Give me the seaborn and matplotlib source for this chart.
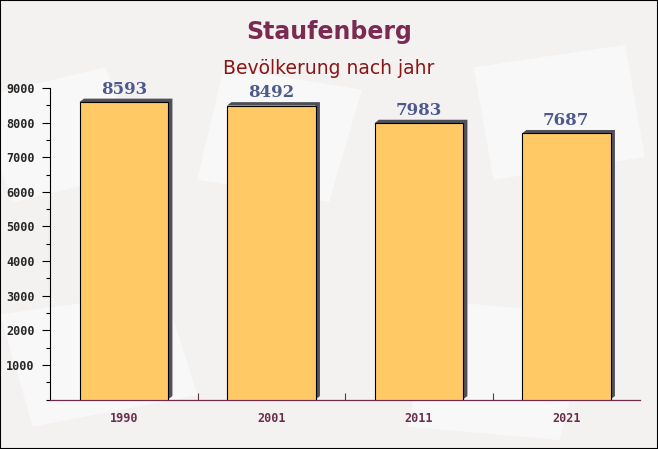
import matplotlib
matplotlib.use('Agg')
import matplotlib.pyplot as plt
import seaborn as sns
import pandas as pd
from matplotlib.ticker import MultipleLocator, FixedLocator
from matplotlib.patches import Rectangle, Polygon

# Daten
jahre = ['1990', '2001', '2011', '2021']
einwohner = [8593, 8492, 7983, 7687]

df = pd.DataFrame({'jahr': jahre, 'einwohner': einwohner})

sns.set_style('white')
plt.rcParams['font.family'] = ['DejaVu Sans']

fig = plt.figure(figsize=(6.58, 4.49), dpi=100)
fig.patch.set_facecolor('#f4f1f1')

# dezente Hintergrundformen (Briefumschläge) in eigener Achse ganz hinten
bg = fig.add_axes([0, 0, 1, 1], zorder=-5)
bg.set_xlim(0, 1)
bg.set_ylim(0, 1)
bg.axis('off')
for pts in [[(0.02, 0.55), (0.22, 0.62), (0.16, 0.85), (-0.04, 0.78)],
            [(0.62, 0.05), (0.85, 0.02), (0.9, 0.3), (0.66, 0.33)],
            [(0.3, 0.6), (0.5, 0.55), (0.55, 0.8), (0.34, 0.85)],
            [(0.75, 0.6), (0.98, 0.65), (0.95, 0.9), (0.72, 0.85)],
            [(0.05, 0.05), (0.3, 0.12), (0.25, 0.35), (0.0, 0.3)]]:
    bg.add_patch(Polygon(pts, closed=True, facecolor='white', alpha=0.5, edgecolor='none'))

ax = fig.add_axes([50 / 658, 1 - 399.5 / 449, 590 / 658, 311.5 / 449])
ax.set_facecolor('none')

sns.barplot(data=df, x='jahr', y='einwohner', ax=ax, color='#ffc966',
            width=0.6, edgecolor='black', linewidth=0.8, saturation=1, zorder=3)

# Schatten der Balken
for bar in ax.patches:
    x0, w, h = bar.get_x(), bar.get_width(), bar.get_height()
    dx, dy = 0.03, 100
    ax.add_patch(Polygon([(x0, h), (x0 + dx, h + dy), (x0 + w + dx, h + dy),
                          (x0 + w + dx, dy), (x0 + w, 0), (x0 + w, h)],
                         closed=True, facecolor='#50505a', edgecolor='none', zorder=2))

for i, v in enumerate(einwohner):
    ax.text(i, v + 120, str(v), ha='center', va='bottom', fontsize=12,
            fontweight='bold', family='DejaVu Serif', color='#4e5a8c', zorder=4)

ax.set_xlim(-0.5, 3.5)
ax.set_ylim(0, 9000)
ax.set_yticks([1000, 2000, 3000, 4000, 5000, 6000, 7000, 8000, 9000])
ax.yaxis.set_minor_locator(MultipleLocator(500))
ax.set_xlabel('')
ax.set_ylabel('')

for lbl in ax.get_yticklabels():
    lbl.set_family('DejaVu Sans Mono')
    lbl.set_fontweight('bold')
    lbl.set_fontsize(8.5)
for lbl in ax.get_xticklabels():
    lbl.set_family('DejaVu Sans Mono')
    lbl.set_fontweight('bold')
    lbl.set_fontsize(8.5)
    lbl.set_color('#6b2d4e')

ax.tick_params(axis='y', which='major', left=True, direction='out', length=6, width=0.8,
               color='black', pad=5)
ax.tick_params(axis='y', which='minor', left=True, direction='out', length=3, width=0.8,
               color='black')
ax.tick_params(axis='x', which='major', bottom=False, length=0, pad=9)
ax.xaxis.set_minor_locator(FixedLocator([0.5, 1.5, 2.5]))
ax.tick_params(axis='x', which='minor', bottom=True, direction='in', length=5, width=0.8,
               color='#6b2d4e')

for s in ['top', 'right']:
    ax.spines[s].set_visible(False)
ax.spines['left'].set_color('black')
ax.spines['left'].set_linewidth(0.8)
ax.spines['bottom'].set_color('#6b2d4e')
ax.spines['bottom'].set_linewidth(0.9)

fig.text(0.5, 1 - 32 / 449, 'Staufenberg', ha='center', va='center', fontsize=17,
         fontweight='bold', color='#7b2b52')
fig.text(0.5, 1 - 68 / 449, 'Bevölkerung nach jahr', ha='center', va='center',
         fontsize=13.5, color='#8b1414')

fig.patches.append(Rectangle((0, 0), 1, 1, transform=fig.transFigure, fill=False,
                             edgecolor='black', linewidth=1.5, zorder=10))

fig.savefig('out.png', dpi=100, facecolor=fig.get_facecolor())
